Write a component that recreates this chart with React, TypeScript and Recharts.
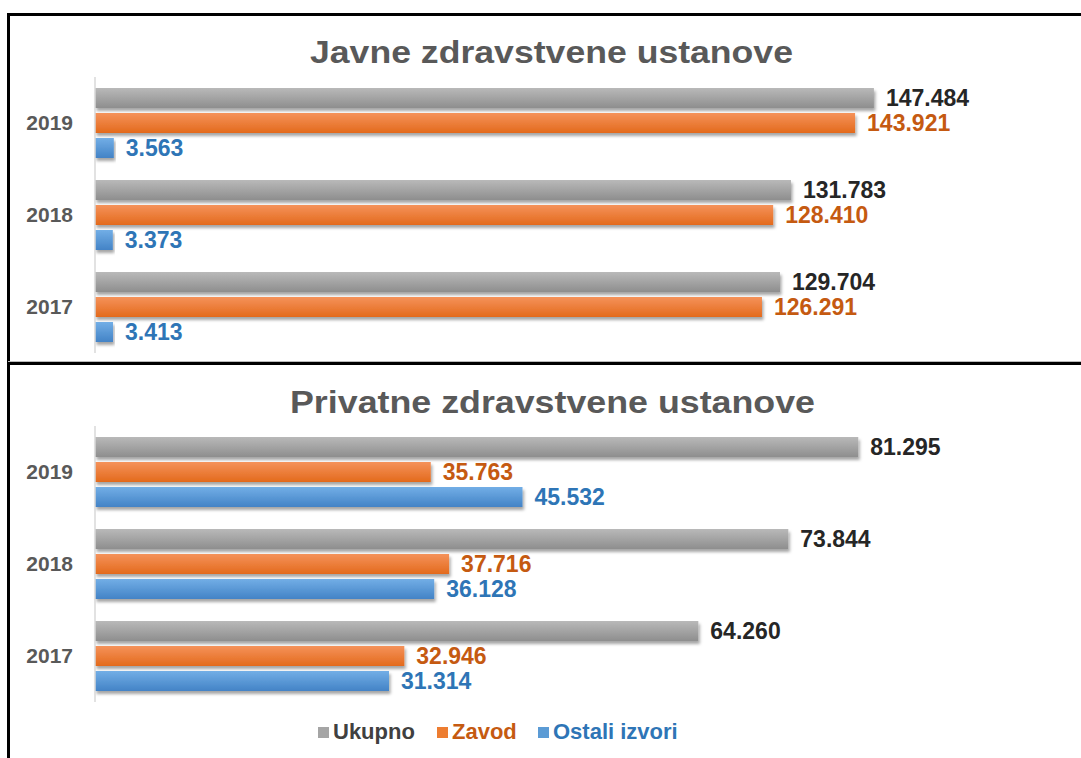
import React from 'react';
import { BarChart, Bar, XAxis, YAxis, LabelList } from 'recharts';

const years = ['2019', '2018', '2017'];
const javneUkupno = [147484, 131783, 129704];
const javneZavod = [143921, 128410, 126291];
const javneOstali = [3563, 3373, 3413];
const privUkupno = [81295, 73844, 64260];
const privZavod = [35763, 37716, 32946];
const privOstali = [45532, 36128, 31314];

const seriesNames = ['Ukupno', 'Zavod', 'Ostali izvori'];
const titles = ['Javne zdravstvene ustanove', 'Privatne zdravstvene ustanove'];

const FONT = '"Liberation Sans", Arial, sans-serif';
const barColors = ['#a5a5a5', '#ed7d31', '#5b9bd5'];
const gradTop = ['#b9b9b9', '#f5925a', '#72aee6'];
const gradBottom = ['#8e8e8e', '#e36a1c', '#4383c6'];
const labelColors = ['#262626', '#c55a11', '#2e75b6'];
const legendText = ['#404040', '#c55a11', '#2e75b6'];

const fmt = (v: number) => String(v).replace(/\B(?=(\d{3})+(?!\d))/g, '.');

const build = (a: number[], b: number[], c: number[]) =>
  years.map((y, i) => ({ year: y, ukupno: a[i], zavod: b[i], ostali: c[i] }));

const javneData = build(javneUkupno, javneZavod, javneOstali);
const privData = build(privUkupno, privZavod, privOstali);
const keys = ['ukupno', 'zavod', 'ostali'];

const ShadowRect = (props: any) => {
  const { x, y, width, height, fill, filterId } = props;
  if (width == null || height == null) return null;
  return <rect x={x} y={y} width={Math.max(width, 0)} height={height} fill={fill} filter={`url(#${filterId})`} />;
};

const YearTick = (props: any) => {
  const { x, y, payload } = props;
  return (
    <text
      x={x}
      y={y}
      dy={7}
      textAnchor="end"
      fill="#595959"
      fontSize={21}
      fontWeight={700}
      fontFamily={FONT}
    >
      {payload.value}
    </text>
  );
};

function Panel({ data, max, prefix, height, top, mTop, mBottom }: any) {
  return (
    <div style={{ position: 'absolute', left: 8, top }}>
      <BarChart
        width={1073}
        height={height}
        data={data}
        layout="vertical"
        margin={{ top: mTop, right: 141, bottom: mBottom, left: 0 }}
        barSize={20}
        barGap={5}
      >
        <defs>
          {keys.map((k, i) => (
            <linearGradient key={k} id={`${prefix}-g-${k}`} x1="0" y1="0" x2="0" y2="1">
              <stop offset="0%" stopColor={gradTop[i]} />
              <stop offset="100%" stopColor={gradBottom[i]} />
            </linearGradient>
          ))}
          <filter id={`${prefix}-sh`} x="-5%" y="-30%" width="115%" height="180%">
            <feDropShadow dx="1.5" dy="3" stdDeviation="1.6" floodColor="#000" floodOpacity="0.35" />
          </filter>
        </defs>
        <XAxis type="number" domain={[0, max]} hide />
        <YAxis
          type="category"
          dataKey="year"
          width={87}
          tickLine={false}
          tickSize={0}
          tickMargin={22}
          axisLine={{ stroke: '#d9d9d9', strokeWidth: 1.5 }}
          tick={<YearTick />}
        />
        {keys.map((k, i) => (
          <Bar
            key={k}
            dataKey={k}
            name={seriesNames[i]}
            fill={`url(#${prefix}-g-${k})`}
            isAnimationActive={false}
            shape={(p: any) => <ShadowRect {...p} filterId={`${prefix}-sh`} />}
          >
            <LabelList
              dataKey={k}
              position="right"
              offset={12}
              formatter={(v: any) => fmt(Number(v))}
              style={{ fill: labelColors[i], fontSize: 23, fontWeight: 700, fontFamily: FONT }}
            />
          </Bar>
        ))}
      </BarChart>
    </div>
  );
}

const legendPos = [318, 437, 538];

export default function App() {
  return (
    <div
      style={{
        position: 'fixed',
        left: 0,
        top: 0,
        width: 1081,
        height: 758,
        background: '#fff',
        overflow: 'hidden',
        fontFamily: FONT,
      }}
    >
      <Panel data={javneData} max={160000} prefix="jav" height={368} top={0} mTop={77} mBottom={15} />
      <Panel data={privData} max={90000} prefix="pri" height={394} top={364} mTop={62} mBottom={56} />

      <svg width={1081} height={758} style={{ position: 'absolute', left: 0, top: 0, pointerEvents: 'none' }}>
        <text
          x={551.5}
          y={63}
          textAnchor="middle"
          fontFamily={FONT}
          fontWeight={700}
          fontSize={31}
          fill="#595959"
          textLength={483}
          lengthAdjust="spacingAndGlyphs"
        >
          {titles[0]}
        </text>
        <text
          x={552.5}
          y={413}
          textAnchor="middle"
          fontFamily={FONT}
          fontWeight={700}
          fontSize={31}
          fill="#595959"
          textLength={525}
          lengthAdjust="spacingAndGlyphs"
        >
          {titles[1]}
        </text>
      </svg>

      {seriesNames.map((n, i) => (
        <div
          key={n}
          style={{
            position: 'absolute',
            left: legendPos[i],
            top: 718,
            height: 28,
            display: 'flex',
            alignItems: 'center',
            fontSize: 22,
            fontWeight: 700,
            color: legendText[i],
            whiteSpace: 'nowrap',
          }}
        >
          <span style={{ display: 'inline-block', width: 11, height: 11, background: barColors[i], marginRight: 4 }} />
          <span>{n}</span>
        </div>
      ))}

      <div style={{ position: 'absolute', left: 8, top: 13, width: 1073, height: 2.5, background: '#000' }} />
      <div style={{ position: 'absolute', left: 7, top: 13, width: 3, height: 745, background: '#000' }} />
      <div style={{ position: 'absolute', left: 8, top: 361, width: 1073, height: 1, background: '#bbb' }} />
      <div style={{ position: 'absolute', left: 8, top: 362, width: 1073, height: 2.5, background: '#000' }} />
    </div>
  );
}
